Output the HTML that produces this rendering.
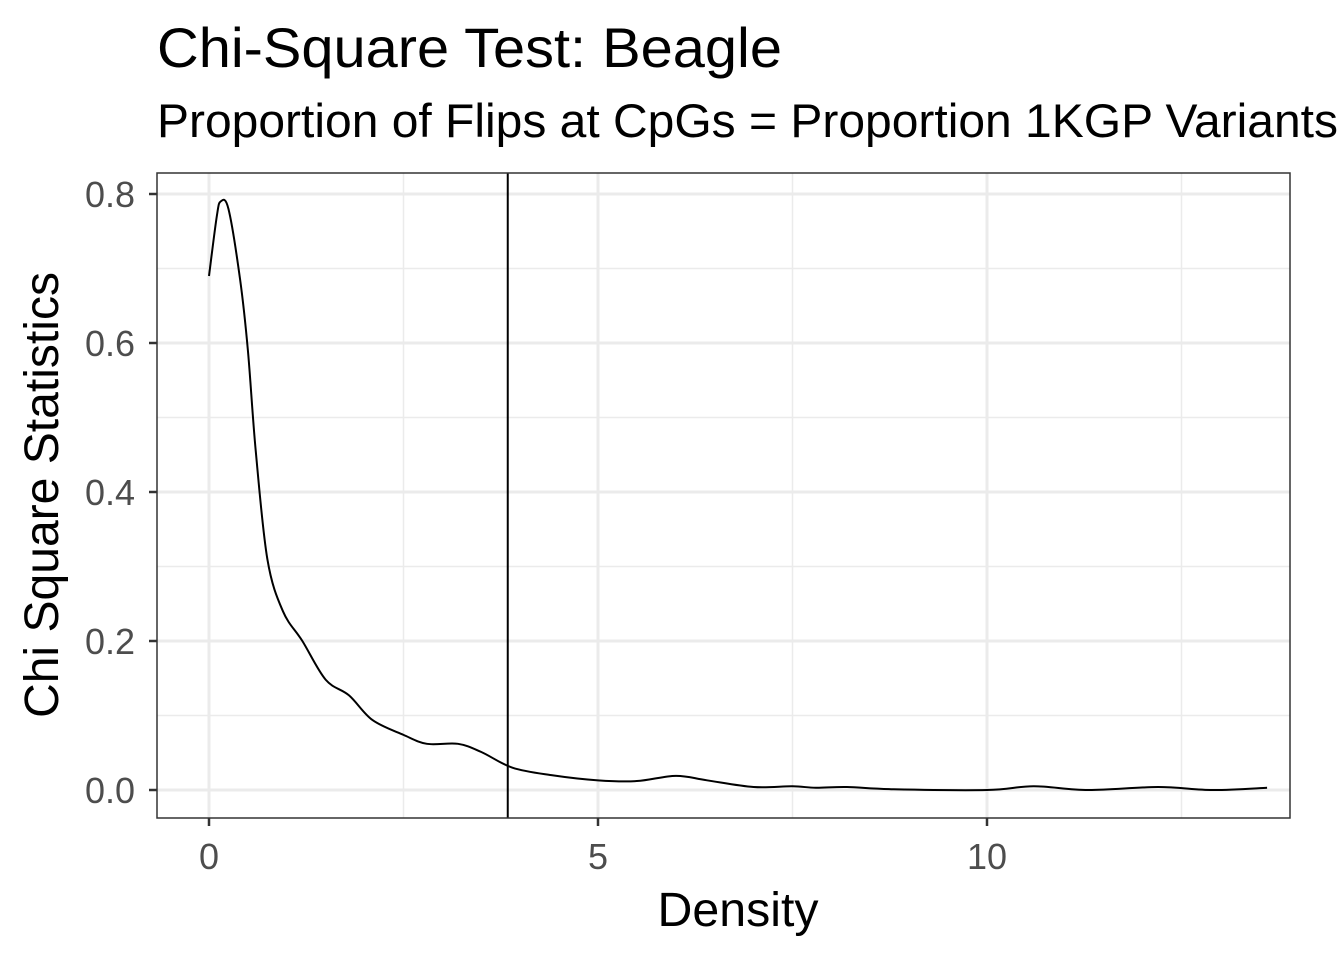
<!DOCTYPE html>
<html><head><meta charset="utf-8"><style>
html,body{margin:0;padding:0;background:#fff;}
svg{display:block;font-family:"Liberation Sans",Arial,sans-serif;}
</style></head><body>
<svg id="chart" width="1344" height="960" xmlns="http://www.w3.org/2000/svg">
<text x="157" y="67" font-size="56" textLength="625" lengthAdjust="spacingAndGlyphs" fill="#000">Chi-Square Test: Beagle</text>
<text x="157" y="137" font-size="47" textLength="1181" lengthAdjust="spacingAndGlyphs" fill="#000">Proportion of Flips at CpGs = Proportion 1KGP Variants</text>
<rect x="157" y="173" width="1133" height="645" fill="#fff"/>
<g id="grid"></g>
<g id="marks"></g>
<rect x="157" y="173" width="1133" height="645" fill="none" stroke="#333" stroke-width="1.5"/>
<g id="axes"></g>
<text x="738" y="926" font-size="48" textLength="161" lengthAdjust="spacingAndGlyphs" text-anchor="middle">Density</text>
<text transform="translate(58,495) rotate(-90)" font-size="48" textLength="446" lengthAdjust="spacingAndGlyphs" text-anchor="middle">Chi Square Statistics</text>
</svg>
<script>
const xs=[0,0.1,0.15,0.25,0.4,0.5,0.6,0.75,0.95,1.2,1.5,1.8,2.1,2.5,2.8,3.2,3.5,3.9,4.4,5,5.5,6.0,6.4,7,7.5,7.8,8.2,8.8,10,10.6,11.3,12.2,12.9,13.6];
const ys=[0.69,0.77,0.79,0.78,0.685,0.59,0.456,0.31,0.24,0.2,0.148,0.127,0.094,0.074,0.062,0.062,0.051,0.03,0.02,0.013,0.012,0.019,0.013,0.004,0.005,0.003,0.004,0.001,0.0,0.005,0.0,0.004,0.0,0.003];
const critical=[3.84];
const xTicks=[0,5,10];
const xTickLabels=["0","5","10"];
const yTicks=[0,0.2,0.4,0.6,0.8];
const yTickLabels=["0.0","0.2","0.4","0.6","0.8"];
const xMinor=[2.5,7.5,12.5];
const yMinor=[0.1,0.3,0.5,0.7];
const X=v=>209+v*77.8;
const Y=v=>790-v*745;
const NS="http://www.w3.org/2000/svg";
function mk(tag,attrs,parent){const e=document.createElementNS(NS,tag);for(const k in attrs)e.setAttribute(k,attrs[k]);parent.appendChild(e);return e;}
const grid=document.getElementById('grid'),marks=document.getElementById('marks'),axes=document.getElementById('axes');
xMinor.forEach(v=>{const l=mk('line',{x1:X(v),x2:X(v),y1:173,y2:818,stroke:'#ebebeb','stroke-width':1.5},grid);

});
yMinor.forEach(v=>{const l=mk('line',{x1:157,x2:1290,y1:Y(v),y2:Y(v),stroke:'#ebebeb','stroke-width':1.5},grid);

});
xTicks.forEach((v,i)=>{const l=mk('line',{x1:X(v),x2:X(v),y1:173,y2:818,stroke:'#ebebeb','stroke-width':3},grid);


const t=mk('line',{x1:X(v),x2:X(v),y1:818,y2:826,stroke:'#333','stroke-width':2.5},axes);


const tx=mk('text',{x:X(v),y:869,'font-size':36,fill:'#4d4d4d','text-anchor':'middle'},axes);tx.textContent=xTickLabels[i];

});
yTicks.forEach((v,i)=>{const l=mk('line',{x1:157,x2:1290,y1:Y(v),y2:Y(v),stroke:'#ebebeb','stroke-width':3},grid);


const t=mk('line',{x1:149,x2:157,y1:Y(v),y2:Y(v),stroke:'#333','stroke-width':2.5},axes);


const tx=mk('text',{x:135,y:Y(v)+13,'font-size':36,fill:'#4d4d4d','text-anchor':'end'},axes);tx.textContent=yTickLabels[i];

});
const P=xs.map((x,i)=>[X(x),Y(ys[i])]);
let d='M'+P[0][0]+','+P[0][1];
for(let i=0;i<P.length-1;i++){const p0=P[Math.max(0,i-1)],p1=P[i],p2=P[i+1],p3=P[Math.min(P.length-1,i+2)];
d+=' C'+(p1[0]+(p2[0]-p0[0])/6)+','+(p1[1]+(p2[1]-p0[1])/6)+' '+(p2[0]-(p3[0]-p1[0])/6)+','+(p2[1]-(p3[1]-p1[1])/6)+' '+p2[0]+','+p2[1];}
const path=mk('path',{d:d,fill:'none',stroke:'#000','stroke-width':2},marks);


critical.forEach(v=>{const l=mk('line',{x1:X(v),x2:X(v),y1:173,y2:818,stroke:'#000','stroke-width':2},marks);

});
</script>
</body></html>
